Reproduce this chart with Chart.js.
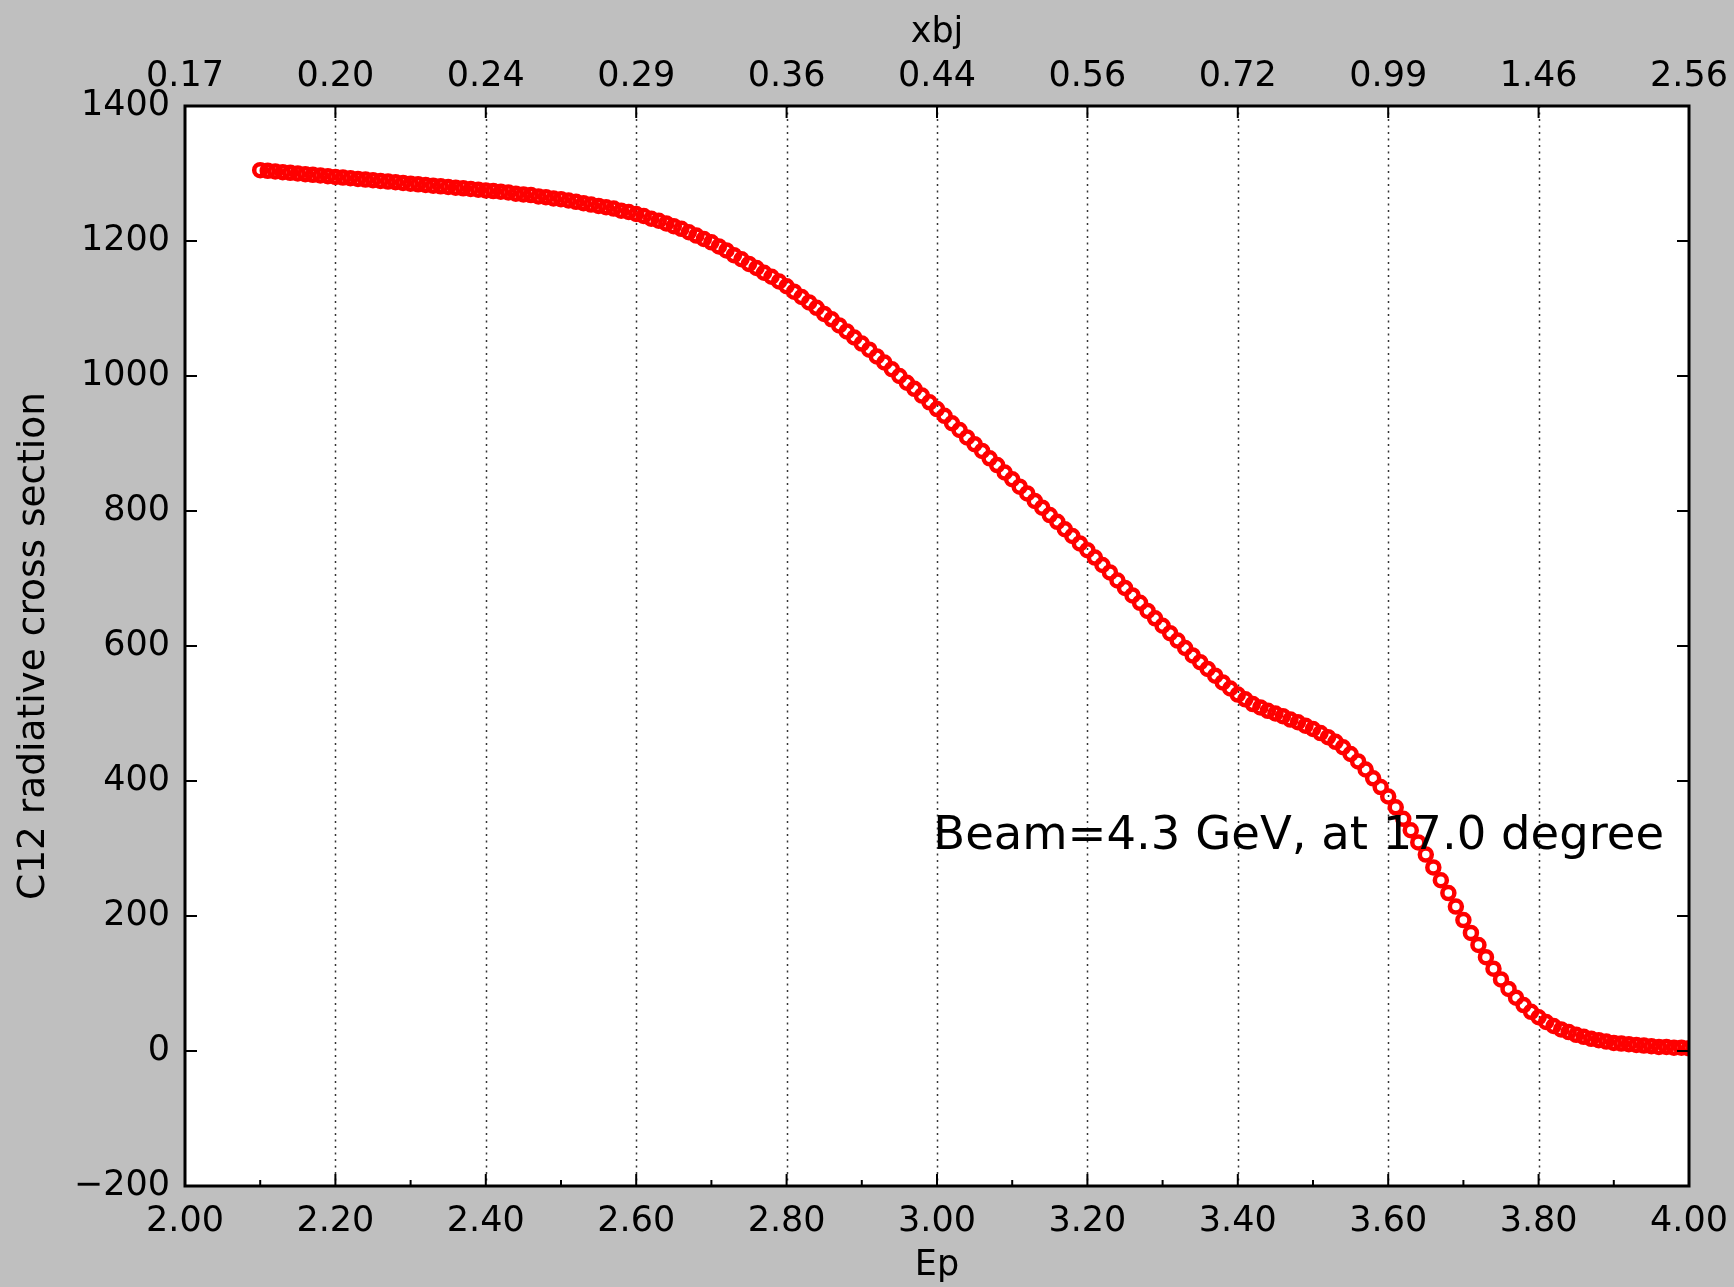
<!DOCTYPE html>
<html>
<head>
<meta charset="utf-8">
<script src="https://cdn.jsdelivr.net/npm/chart.js@4.4.1/dist/chart.umd.min.js"></script>
<style>
  html, body { margin: 0; padding: 0; background: #bfbfbf; }
  #wrap { width: 1734px; height: 1287px; }
</style>
</head>
<body>
<div id="wrap"><canvas id="myChart"></canvas></div>
<script>
// Ep (GeV) and C12 radiative cross section
var ep = [
  2.10, 2.11, 2.12, 2.13, 2.14, 2.15, 2.16, 2.17, 2.18, 2.19,
  2.20, 2.21, 2.22, 2.23, 2.24, 2.25, 2.26, 2.27, 2.28, 2.29,
  2.30, 2.31, 2.32, 2.33, 2.34, 2.35, 2.36, 2.37, 2.38, 2.39,
  2.40, 2.41, 2.42, 2.43, 2.44, 2.45, 2.46, 2.47, 2.48, 2.49,
  2.50, 2.51, 2.52, 2.53, 2.54, 2.55, 2.56, 2.57, 2.58, 2.59,
  2.60, 2.61, 2.62, 2.63, 2.64, 2.65, 2.66, 2.67, 2.68, 2.69,
  2.70, 2.71, 2.72, 2.73, 2.74, 2.75, 2.76, 2.77, 2.78, 2.79,
  2.80, 2.81, 2.82, 2.83, 2.84, 2.85, 2.86, 2.87, 2.88, 2.89,
  2.90, 2.91, 2.92, 2.93, 2.94, 2.95, 2.96, 2.97, 2.98, 2.99,
  3.00, 3.01, 3.02, 3.03, 3.04, 3.05, 3.06, 3.07, 3.08, 3.09,
  3.10, 3.11, 3.12, 3.13, 3.14, 3.15, 3.16, 3.17, 3.18, 3.19,
  3.20, 3.21, 3.22, 3.23, 3.24, 3.25, 3.26, 3.27, 3.28, 3.29,
  3.30, 3.31, 3.32, 3.33, 3.34, 3.35, 3.36, 3.37, 3.38, 3.39,
  3.40, 3.41, 3.42, 3.43, 3.44, 3.45, 3.46, 3.47, 3.48, 3.49,
  3.50, 3.51, 3.52, 3.53, 3.54, 3.55, 3.56, 3.57, 3.58, 3.59,
  3.60, 3.61, 3.62, 3.63, 3.64, 3.65, 3.66, 3.67, 3.68, 3.69,
  3.70, 3.71, 3.72, 3.73, 3.74, 3.75, 3.76, 3.77, 3.78, 3.79,
  3.80, 3.81, 3.82, 3.83, 3.84, 3.85, 3.86, 3.87, 3.88, 3.89,
  3.90, 3.91, 3.92, 3.93, 3.94, 3.95, 3.96, 3.97, 3.98, 3.99,
  4.00
];
var sigma = [
  1305, 1304, 1303, 1302, 1301, 1300, 1299, 1298, 1297, 1296,
  1295, 1294, 1293, 1292, 1291, 1290, 1289, 1288, 1287, 1286,
  1285, 1284, 1283, 1282, 1281, 1280, 1279, 1278, 1277, 1276,
  1275, 1274, 1273, 1272, 1270, 1269, 1268, 1266, 1265, 1263,
  1262, 1260, 1258, 1256, 1254, 1252, 1250, 1248, 1245, 1243,
  1240, 1237, 1233, 1230, 1226, 1222, 1218, 1213, 1208, 1203,
  1198, 1192, 1186, 1179, 1173, 1166, 1160, 1153, 1147, 1140,
  1133, 1125, 1117, 1109, 1101, 1092, 1084, 1075, 1066, 1057,
  1048, 1039, 1029, 1020, 1010, 1000, 990, 981, 971, 961,
  951, 941, 930, 920, 909, 899, 889, 878, 868, 857,
  847, 836, 826, 815, 805, 794, 784, 773, 763, 752,
  742, 731, 720, 709, 697, 686, 675, 664, 652, 641,
  630, 619, 608, 597, 586, 576, 566, 556, 546, 537,
  528, 521, 514, 509, 504, 500, 496, 491, 487, 482,
  477, 471, 465, 458, 450, 440, 429, 417, 404, 391,
  377, 361, 344, 327, 309, 291, 272, 253, 234, 214,
  194, 175, 157, 139, 122, 106, 92, 79, 68, 58,
  50, 43, 37, 32, 28, 24, 21, 18, 16, 14,
  12, 11, 10, 9, 8, 7, 6, 6, 5, 5,
  4
];
// top axis: xbj labels at each Ep tick (2.00 ... 4.00)
var xbjLabels = ['0.17', '0.20', '0.24', '0.29', '0.36', '0.44', '0.56', '0.72', '0.99', '1.46', '2.56'];
var noteText = 'Beam=4.3 GeV, at 17.0 degree';
var notePos = { x: 2.995, y: 300 };

var FONT = '"DejaVu Sans", "Liberation Sans", sans-serif';
Chart.defaults.color = '#000';
Chart.defaults.font.family = FONT;

var points = ep.map(function(x, i) { return { x: x, y: sigma[i] }; });

// matplotlib-ish frame: white axes, inward ticks, dotted vertical grid
var mplFrame = {
  id: 'mplFrame',
  beforeDraw: function(chart) {
    var c = chart.ctx, a = chart.chartArea;
    c.save();
    c.fillStyle = '#bfbfbf';
    c.fillRect(0, 0, chart.width, chart.height);
    c.fillStyle = '#fff';
    c.fillRect(a.left, a.top, a.right - a.left, a.bottom - a.top);
    c.restore();
  },
  beforeDatasetsDraw: function(chart) {
    var c = chart.ctx, a = chart.chartArea, xs = chart.scales.x;
    c.save();
    c.strokeStyle = '#333';
    c.lineWidth = 1.5;
    c.setLineDash([2, 4.5]);
    xs.ticks.forEach(function(t, i) {
      if (i === 0 || i === xs.ticks.length - 1) return;
      var px = Math.round(xs.getPixelForValue(t.value)) + 0.5;
      c.beginPath();
      c.moveTo(px, a.top);
      c.lineTo(px, a.bottom);
      c.stroke();
    });
    c.restore();
  },
  afterDatasetsDraw: function(chart) {
    var c = chart.ctx, a = chart.chartArea, xs = chart.scales.x, ys = chart.scales.y;
    c.save();
    c.strokeStyle = '#000';
    c.lineWidth = 2;
    var major = 12, minor = 6;
    xs.ticks.forEach(function(t, i) {
      var px = xs.getPixelForValue(t.value);
      c.beginPath();
      c.moveTo(px, a.bottom); c.lineTo(px, a.bottom - major);
      c.moveTo(px, a.top); c.lineTo(px, a.top + major);
      c.stroke();
      if (i < xs.ticks.length - 1) {
        var mx = xs.getPixelForValue((t.value + xs.ticks[i + 1].value) / 2);
        c.beginPath();
        c.moveTo(mx, a.bottom); c.lineTo(mx, a.bottom - minor);
        c.stroke();
      }
    });
    ys.ticks.forEach(function(t) {
      var py = ys.getPixelForValue(t.value);
      c.beginPath();
      c.moveTo(a.left, py); c.lineTo(a.left + major, py);
      c.moveTo(a.right, py); c.lineTo(a.right - major, py);
      c.stroke();
    });
    c.lineWidth = 3;
    c.strokeRect(a.left, a.top, a.right - a.left, a.bottom - a.top);

    // annotation
    c.fillStyle = '#000';
    c.font = '46.5px ' + FONT;
    c.textAlign = 'left';
    c.textBaseline = 'alphabetic';
    c.fillText(noteText, xs.getPixelForValue(notePos.x), ys.getPixelForValue(notePos.y));
    c.restore();
  }
};

function fixHeight(h) {
  return function(scale) { scale.height = h; scale.paddingLeft = 0; scale.paddingRight = 0; };
}

new Chart(document.getElementById('myChart'), {
  type: 'scatter',
  data: {
    datasets: [{
      data: points,
      showLine: false,
      pointStyle: 'circle',
      pointRadius: 6,
      pointBorderWidth: 4.5,
      pointBorderColor: '#ff0000',
      pointBackgroundColor: 'rgba(0,0,0,0)',
      pointHoverRadius: 6
    }]
  },
  options: {
    responsive: true,
    maintainAspectRatio: false,
    animation: false,
    layout: { padding: { left: 0, right: 45, top: 0, bottom: 0 } },
    plugins: {
      legend: { display: false },
      tooltip: { enabled: false }
    },
    scales: {
      x: {
        type: 'linear',
        position: 'bottom',
        min: 2, max: 4,
        grid: { display: false },
        border: { display: false },
        ticks: {
          stepSize: 0.2,
          padding: 7,
          maxRotation: 0,
          autoSkip: false,
          font: { size: 35 },
          callback: function(v) { return Number(v).toFixed(2); }
        },
        title: { display: true, text: 'Ep', font: { size: 35 }, padding: { bottom: 0, top: 0 } },
        afterFit: fixHeight(101)
      },
      x2: {
        type: 'linear',
        position: 'top',
        min: 2, max: 4,
        grid: { display: false },
        border: { display: false },
        ticks: {
          stepSize: 0.2,
          padding: 0,
          maxRotation: 0,
          autoSkip: false,
          font: { size: 35 },
          callback: function(v, i) { return xbjLabels[i]; }
        },
        title: { display: true, text: 'xbj', font: { size: 35 }, padding: { top: 12, bottom: 0 } },
        afterFit: fixHeight(106)
      },
      y: {
        type: 'linear',
        position: 'left',
        min: -200, max: 1400,
        grid: { display: false },
        border: { display: false },
        ticks: {
          stepSize: 200,
          padding: 7,
          font: { size: 35 },
          callback: function(v) { return v < 0 ? '\u2212' + Math.abs(v) : String(v); }
        },
        title: { display: true, text: 'C12 radiative cross section', font: { size: 37.5 }, padding: { top: 12, bottom: 0 } },
        afterFit: function(scale) { scale.width = 185; scale.paddingTop = 0; scale.paddingBottom = 0; }
      }
    }
  },
  plugins: [mplFrame]
});
</script>
</body>
</html>
